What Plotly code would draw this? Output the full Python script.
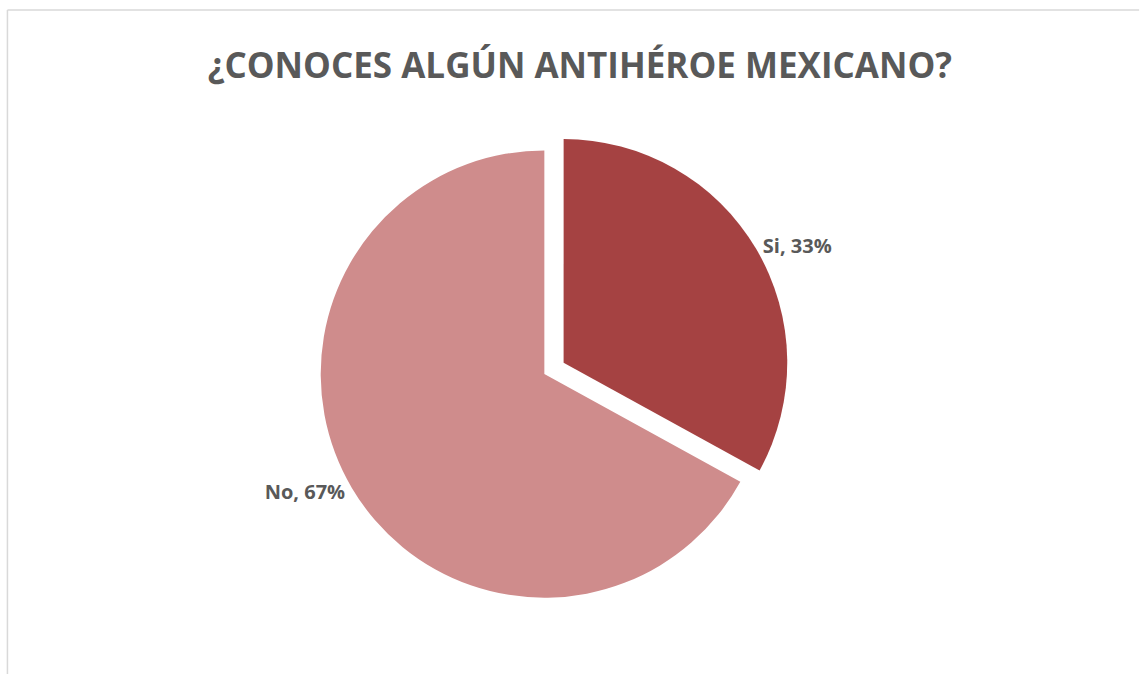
import plotly.graph_objects as go

labels = ["Si", "No"]
values = [33, 67]
colors = ["#A54242", "#CF8C8C"]
pulls = [0.1, 0]
title_text = "¿CONOCES ALGÚN ANTIHÉROE MEXICANO?"

fig = go.Figure(go.Pie(
    labels=labels,
    values=values,
    sort=False,
    direction="clockwise",
    rotation=0,
    pull=pulls,
    marker=dict(colors=colors, line=dict(color="#FFFFFF", width=0)),
    texttemplate="%{label}, %{percent:.0%}",
    textposition="outside",
    textfont=dict(family="Open Sans", size=20, color="#595959", weight="bold"),
    showlegend=False,
    hoverinfo="label+percent",
    domain=dict(x=[0.26, 0.69], y=[0.08, 0.81]),
))

fig.update_layout(
    width=1146, height=674,
    margin=dict(l=0, r=0, t=0, b=0),
    paper_bgcolor="white",
    title=dict(text="<b>" + title_text + "</b>", x=0.506, xanchor="center",
               y=0.903, yanchor="middle",
               font=dict(family="Open Sans", size=35, color="#595959")),
    shapes=[
        dict(type="line", xref="paper", yref="paper", x0=0.0065, x1=0.994, y0=0.985, y1=0.985,
             line=dict(color="#D9D9D9", width=1.5)),
        dict(type="line", xref="paper", yref="paper", x0=0.0065, x1=0.0065, y0=0.0, y1=0.985,
             line=dict(color="#D9D9D9", width=1.5)),
    ],
)

fig.write_html("out.html")
